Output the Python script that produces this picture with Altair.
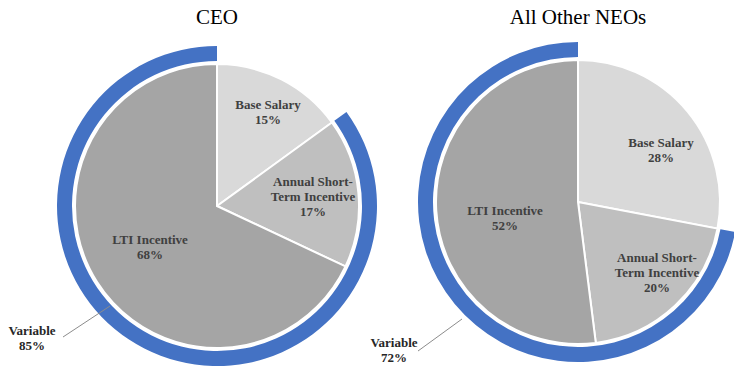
import math
import altair as alt
import pandas as pd

# ---------------- data ----------------
GROUPS = ["CEO", "All Other NEOs"]
CATEGORIES = ["Base Salary", "Annual Short-Term Incentive", "LTI Incentive"]
LABEL_LINES = [["Base Salary"], ["Annual Short-", "Term Incentive"], ["LTI Incentive"]]
CEO_VALUES = [15, 17, 68]
NEO_VALUES = [28, 20, 52]
VARIABLE_NAME = "Variable"
VARIABLE_VALUES = [85, 72]

# ---------------- styles ----------------
W, H = 726, 360
CENTER_X = [209, 570]
CENTER_Y = [198, 194]
SLICE_COLORS = ["#d9d9d9", "#bfbfbf", "#a5a5a5"]
RING_COLOR = "#4472c4"
PIE_R = 142
RING_INNER, RING_OUTER = 145, 160
FONT = "Liberation Serif"
LINE_H = 15
TITLE_RADIUS = [182, 178]
# label block centre offsets from the pie centre (px): (dx, dy)
LABEL_OFFSETS = {
    "CEO": [(51, -93.5), (96, -9), (-67, 41.5)],
    "All Other NEOs": [(83, -51.5), (79, 71), (-73, 16.5)],
}
VARIABLE_OFFSETS = {"CEO": (-185, 132.5), "All Other NEOs": (-184, 148.5)}
LEADER_OFFSETS = {
    "CEO": ((-154, 131), (-107, 100)),
    "All Other NEOs": ((-160, 149), (-116, 117)),
}


def polar(dx, dy):
    ang = math.atan2(dx, -dy)
    if ang < 0:
        ang += 2 * math.pi
    return ang / (2 * math.pi) * 100, math.hypot(dx, dy)


def line_rows(group, lines, offset, kind):
    rows = []
    n = len(lines)
    for k, txt in enumerate(lines):
        dx, dy = offset
        lt, lr = polar(dx, dy + (k - (n - 1) / 2) * LINE_H)
        rows.append({"group": group, "label": txt, "lt": lt, "lr": lr, "kind": kind})
    return rows


slices, labels, ring, leaders, titles = [], [], [], [], []
for gi, (g, vals) in enumerate(zip(GROUPS, [CEO_VALUES, NEO_VALUES])):
    start = 0
    for ci, (cat, lines, v) in enumerate(zip(CATEGORIES, LABEL_LINES, vals)):
        slices.append({"group": g, "category": cat, "start": start, "end": start + v})
        labels += line_rows(g, lines + [f"{v}%"], LABEL_OFFSETS[g][ci], "slice")
        start += v
    var = VARIABLE_VALUES[gi]
    ring.append({"group": g, "start": 100 - var, "end": 100})
    labels += line_rows(g, [VARIABLE_NAME, f"{var}%"], VARIABLE_OFFSETS[g], "variable")
    (ax, ay), (bx, by) = LEADER_OFFSETS[g]
    leaders.append({"x1": CENTER_X[gi] + ax, "y1": CENTER_Y[gi] + ay,
                    "x2": CENTER_X[gi] + bx, "y2": CENTER_Y[gi] + by})
    titles.append({"group": g, "lt": 0, "lr": TITLE_RADIUS[gi]})

df_slices = pd.DataFrame(slices)
df_labels = pd.DataFrame(labels)
df_ring = pd.DataFrame(ring)
df_lead = pd.DataFrame(leaders)
df_titles = pd.DataFrame(titles)

XS = alt.Scale(type="point", domain=GROUPS, range=CENTER_X, padding=0)
YS = alt.Scale(type="point", domain=GROUPS, range=CENTER_Y, padding=0)
THETA = alt.Scale(domain=[0, 100], range=[0, 2 * math.pi])

X = alt.X("group:N", scale=XS, axis=None)
Y = alt.Y("group:N", scale=YS, axis=None)

pie = alt.Chart(df_slices).mark_arc(
    outerRadius=PIE_R, stroke="white", strokeWidth=2
).encode(
    x=X, y=Y,
    theta=alt.Theta("start:Q", scale=THETA),
    theta2=alt.Theta2("end:Q"),
    color=alt.Color("category:N", scale=alt.Scale(domain=CATEGORIES, range=SLICE_COLORS), legend=None),
)

ring_layer = alt.Chart(df_ring).mark_arc(
    innerRadius=RING_INNER, outerRadius=RING_OUTER, color=RING_COLOR
).encode(
    x=X, y=Y,
    theta=alt.Theta("start:Q", scale=THETA),
    theta2=alt.Theta2("end:Q"),
)

label_layer = alt.Chart(df_labels).mark_text(
    font=FONT, fontSize=13, fontWeight="bold", align="center", baseline="middle"
).encode(
    x=X, y=Y,
    theta=alt.Theta("lt:Q", scale=THETA),
    radius=alt.Radius("lr:Q", scale=None),
    text="label:N",
    color=alt.Color("kind:N", scale=alt.Scale(domain=["slice", "variable"], range=["#404040", "#262626"]), legend=None),
)

title_layer = alt.Chart(df_titles).mark_text(
    font=FONT, fontSize=21, color="#000000", align="center", baseline="alphabetic"
).encode(
    x=X, y=Y,
    theta=alt.Theta("lt:Q", scale=THETA),
    radius=alt.Radius("lr:Q", scale=None),
    text="group:N",
)

lead_layer = alt.Chart(df_lead).mark_rule(color="#8c8c8c", strokeWidth=1).encode(
    x=alt.X("x1:Q", scale=None, axis=None),
    x2="x2:Q",
    y=alt.Y("y1:Q", scale=None, axis=None),
    y2="y2:Q",
)

chart = alt.layer(
    pie, ring_layer, label_layer, title_layer, lead_layer
).resolve_scale(x="independent", y="independent", color="independent").properties(
    width=W, height=H, padding=0, autosize=alt.AutoSizeParams(type="none"),
    background="white",
).configure_view(strokeWidth=0)

chart.save("out.html", embed_options={"renderer": "svg", "actions": False})
